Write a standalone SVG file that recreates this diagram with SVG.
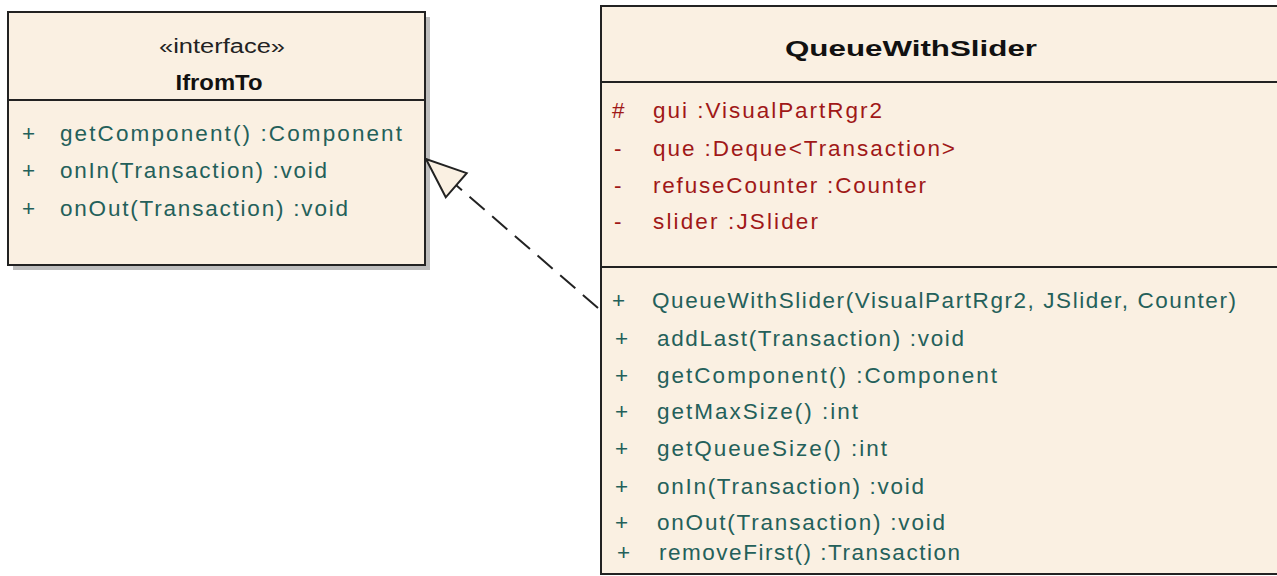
<svg xmlns="http://www.w3.org/2000/svg" width="1277" height="576" viewBox="0 0 1277 576">
<style>
.box{fill:#faf0e2;stroke:#222;stroke-width:2}
.shadow{fill:#bdbdbd}
.div{stroke:#222;stroke-width:2}
.t{font-family:"Liberation Sans",Arial,sans-serif;font-size:22.5px}
.b{font-weight:bold;fill:#111}
.st{fill:#222;font-size:20px}
.op{fill:#24605a}
.at{fill:#a01818}
.conn{stroke:#222;stroke-width:2;fill:none;stroke-dasharray:20 10}
</style>
<defs>
<marker id="realize" markerUnits="userSpaceOnUse" markerWidth="46" markerHeight="46" refX="42" refY="23" orient="auto">
<path d="M42,23 L2,7 L2,39 Z" fill="#faf0e2" stroke="#222" stroke-width="2"/>
</marker>
</defs>
<g id="IfromTo">
<rect class="shadow" x="13" y="17" width="417" height="253"/>
<rect class="box" x="8" y="12" width="417" height="253"/>
<line class="div" x1="8" y1="100" x2="425" y2="100"/>
<text class="t st" x="222" y="53" text-anchor="middle" textLength="126" lengthAdjust="spacingAndGlyphs">«interface»</text>
<text class="t b" x="219" y="90" text-anchor="middle" textLength="87" lengthAdjust="spacingAndGlyphs">IfromTo</text>
<text class="t op" x="22" y="141">+</text>
<text class="t op" x="60" y="141" textLength="342" lengthAdjust="spacing">getComponent()  :Component</text>
<text class="t op" x="22" y="178">+</text>
<text class="t op" x="60" y="178" textLength="267" lengthAdjust="spacing">onIn(Transaction)  :void</text>
<text class="t op" x="22" y="216">+</text>
<text class="t op" x="60" y="216" textLength="288" lengthAdjust="spacing">onOut(Transaction)  :void</text>
</g>
<g id="QueueWithSlider">
<rect class="box" x="601" y="6" width="680" height="568"/>
<line class="div" x1="601" y1="82" x2="1277" y2="82"/>
<line class="div" x1="601" y1="267" x2="1277" y2="267"/>
<text class="t b" x="911" y="56" text-anchor="middle" textLength="252" lengthAdjust="spacingAndGlyphs">QueueWithSlider</text>
<text class="t at" x="612" y="118">#</text>
<text class="t at" x="653" y="118" textLength="229" lengthAdjust="spacing">gui  :VisualPartRgr2</text>
<text class="t at" x="614" y="156">-</text>
<text class="t at" x="653" y="156" textLength="302" lengthAdjust="spacing">que  :Deque&lt;Transaction&gt;</text>
<text class="t at" x="614" y="193">-</text>
<text class="t at" x="653" y="193" textLength="273" lengthAdjust="spacing">refuseCounter :Counter</text>
<text class="t at" x="614" y="229">-</text>
<text class="t at" x="653" y="229" textLength="165" lengthAdjust="spacing">slider :JSlider</text>
<text class="t op" x="612" y="308">+</text>
<text class="t op" x="652" y="308" textLength="584" lengthAdjust="spacing">QueueWithSlider(VisualPartRgr2, JSlider, Counter)</text>
<text class="t op" x="615" y="346">+</text>
<text class="t op" x="657" y="346" textLength="307" lengthAdjust="spacing">addLast(Transaction) :void</text>
<text class="t op" x="615" y="383">+</text>
<text class="t op" x="657" y="383" textLength="340" lengthAdjust="spacing">getComponent()  :Component</text>
<text class="t op" x="615" y="419">+</text>
<text class="t op" x="657" y="419" textLength="201" lengthAdjust="spacing">getMaxSize() :int</text>
<text class="t op" x="615" y="456">+</text>
<text class="t op" x="657" y="456" textLength="230" lengthAdjust="spacing">getQueueSize() :int</text>
<text class="t op" x="615" y="494">+</text>
<text class="t op" x="657" y="494" textLength="267" lengthAdjust="spacing">onIn(Transaction)  :void</text>
<text class="t op" x="615" y="530">+</text>
<text class="t op" x="657" y="530" textLength="288" lengthAdjust="spacing">onOut(Transaction) :void</text>
<text class="t op" x="617" y="560">+</text>
<text class="t op" x="659" y="560" textLength="301" lengthAdjust="spacing">removeFirst()  :Transaction</text>
</g>
<g id="connectors">
<path class="conn" d="M598,308 L426,159" marker-end="url(#realize)"/>
</g>
</svg>
